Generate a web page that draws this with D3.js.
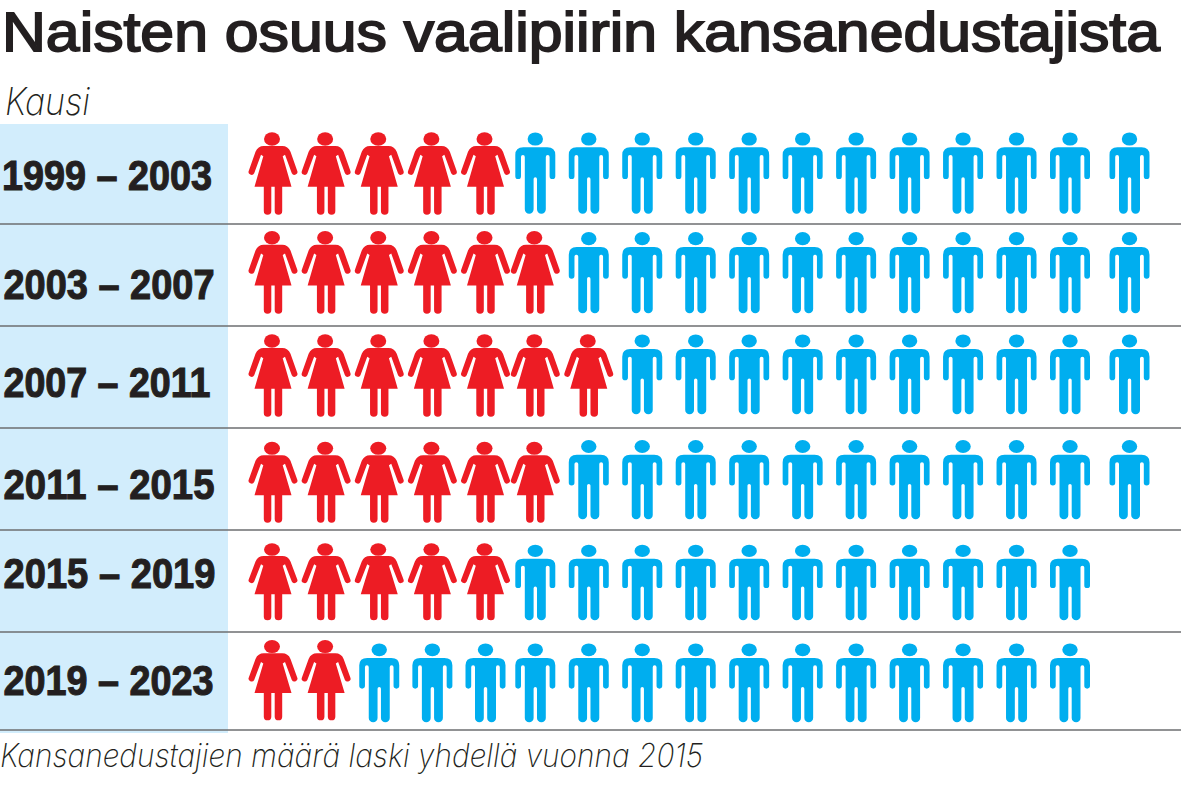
<!DOCTYPE html>
<html>
<head>
<meta charset="utf-8">
<script src="https://cdn.jsdelivr.net/npm/d3@7"></script>
<style>
  html, body { margin: 0; padding: 0; background: #fff; }
  svg { display: block; }
  text { font-family: "Liberation Sans", sans-serif; fill: #231f20; }
</style>
</head>
<body>
<svg id="chart" width="1181" height="787"></svg>
<script>
// data: seats held by women and men per term
var periods = ["1999 – 2003", "2003 – 2007", "2007 – 2011", "2011 – 2015", "2015 – 2019", "2019 – 2023"];
var women = [5, 6, 7, 6, 5, 2];
var men = [12, 11, 10, 11, 11, 14];

var title = "Naisten osuus vaalipiirin kansanedustajista";
var axisTitle = "Kausi";
var footnote = "Kansanedustajien määrä laski yhdellä vuonna 2015";

var RED = "#ed1c24", BLUE = "#00aeef", PANEL = "#d2edfc", RULE = "#6d6e71", INK = "#231f20";

var svg = d3.select("#chart");

// the columns are not evenly spaced in the original, so the scale is piecewise
var x = d3.scaleLinear()
  .domain([1, 5, 6, 16, 17])
  .range([273, 485.5, 535.3, 1070, 1129.5]);

function rowScale(range) {
  return d3.scaleOrdinal().domain(periods).range(range);
}

// rows differ a little in the original, also between the two figures
var womanTop = rowScale([132.3, 231, 334.3, 441.7, 543.3, 640]);
var womanBottom = rowScale([214.7, 313.7, 416.7, 522.7, 620.3, 720.3]);
var manTop = rowScale([132.3, 232, 334.3, 440, 544.7, 643.3]);
var manBottom = rowScale([213.7, 313.3, 414.3, 519.3, 620.3, 722.3]);
var ruleY = rowScale([224, 326, 428, 530, 632, 730]);
var labelY = rowScale([190, 299, 397, 499, 588, 695]);
var labelX = rowScale([2, 3.5, 3.5, 3.5, 3.5, 3.5]);
var labelW = rowScale([210, 211, 207, 211, 212, 210]);

// pictograms: x from the body centre, y from the top of the head
var WOMAN_H = 82.4, MAN_H = 81.3;
var womanPath = "M-9.2,13.7 L9.2,13.7 Q15,13.7 17.5,19.4 L24.2,38.4 A3,3 0 0 1 18.8,41 L12,22.5 L9.7,24 "
  + "L18.5,54.4 L9.2,54.4 L9.2,78.7 A3.75,3.75 0 0 1 1.7,78.7 L1.7,54.4 L-1.7,54.4 L-1.7,78.7 "
  + "A3.75,3.75 0 0 1 -9.2,78.7 L-9.2,54.4 L-18.5,54.4 L-9.7,24 L-12,22.5 L-18.8,41 A3,3 0 0 1 -24.2,38.4 "
  + "L-17.5,19.4 Q-15,13.7 -9.2,13.7 Z";
var manPath = "M-12,15 L12,15 Q20,15 20,22.7 L20,43.8 A2.85,2.85 0 0 1 14.3,43.8 L14.3,24.6 A1.9,1.9 0 0 0 10.5,24.6 "
  + "L10.5,76.9 A4.4,4.4 0 0 1 1.7,76.9 L1.7,46.7 A1.7,1.7 0 0 0 -1.7,46.7 L-1.7,76.9 A4.4,4.4 0 0 1 -10.5,76.9 "
  + "L-10.5,24.6 A1.9,1.9 0 0 0 -14.3,24.6 L-14.3,43.8 A2.85,2.85 0 0 1 -20,43.8 L-20,22.7 Q-20,15 -12,15 Z";

svg.append("text")
  .attr("x", 2).attr("y", 50.5)
  .attr("font-size", 55.5)
  .attr("stroke", INK)
  .attr("stroke-width", 1.8)
  .attr("textLength", 1158)
  .attr("lengthAdjust", "spacingAndGlyphs")
  .text(title);

svg.append("text")
  .attr("x", 5).attr("y", 115)
  .style("font-family", "Inter, sans-serif")
  .attr("font-size", 38)
  .attr("font-style", "italic")
  .attr("font-weight", 200)
  .attr("textLength", 85)
  .attr("lengthAdjust", "spacingAndGlyphs")
  .text(axisTitle);

svg.append("rect")
  .attr("x", 0).attr("y", 124)
  .attr("width", 228).attr("height", 609)
  .attr("fill", PANEL);

svg.selectAll("line.rule")
  .data(periods)
  .enter()
  .append("line")
  .attr("class", "rule")
  .attr("x1", 0).attr("x2", 1181)
  .attr("y1", function(d) { return ruleY(d); })
  .attr("y2", function(d) { return ruleY(d); })
  .attr("stroke", RULE)
  .attr("stroke-width", 1.3);

svg.selectAll("text.period")
  .data(periods)
  .enter()
  .append("text")
  .attr("class", "period")
  .attr("x", function(d) { return labelX(d); })
  .attr("y", function(d) { return labelY(d); })
  .attr("font-size", 42)
  .attr("font-weight", "bold")
  .attr("stroke", INK)
  .attr("stroke-width", 1.1)
  .attr("textLength", function(d) { return labelW(d); })
  .attr("lengthAdjust", "spacingAndGlyphs")
  .text(function(d) { return d; });

// one group per row, one figure per seat
var rows = svg.selectAll("g.row")
  .data(periods)
  .enter()
  .append("g")
  .attr("class", "row");

var figures = rows.selectAll("g.figure")
  .data(function(d, i) {
    return d3.range(1, women[i] + men[i] + 1).map(function(seat) {
      return { period: d, seat: seat, woman: seat <= women[i] };
    });
  })
  .enter()
  .append("g")
  .attr("class", "figure")
  .attr("fill", function(d) { return d.woman ? RED : BLUE; })
  .attr("transform", function(d) {
    var top = d.woman ? womanTop(d.period) : manTop(d.period);
    var bottom = d.woman ? womanBottom(d.period) : manBottom(d.period);
    var k = (bottom - top) / (d.woman ? WOMAN_H : MAN_H);
    return "translate(" + x(d.seat) + "," + top + ") scale(1," + k + ")";
  });

figures.append("ellipse")
  .attr("cx", function(d) { return d.woman ? -1 : 0; })
  .attr("cy", 6.7)
  .attr("rx", function(d) { return d.woman ? 8 : 7.7; })
  .attr("ry", function(d) { return d.woman ? 6.7 : 6.6; });

figures.append("path")
  .attr("d", function(d) { return d.woman ? womanPath : manPath; });

svg.append("text")
  .attr("x", 0).attr("y", 767)
  .style("font-family", "Inter, sans-serif")
  .attr("font-size", 33)
  .attr("font-style", "italic")
  .attr("font-weight", 200)
  .attr("textLength", 703)
  .attr("lengthAdjust", "spacingAndGlyphs")
  .text(footnote);
</script>
</body>
</html>
